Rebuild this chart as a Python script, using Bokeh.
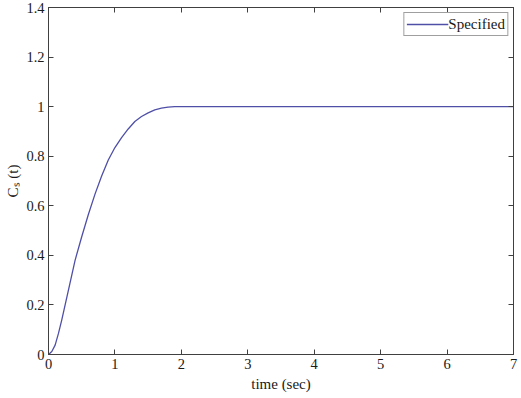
from bokeh.plotting import figure
from bokeh.models import Range1d, FixedTicker, LinearAxis, Legend, LegendItem
from bokeh.embed import file_html
from bokeh.resources import INLINE

# --- data ---
time_sec = [0.0, 0.05, 0.1, 0.15, 0.2, 0.3, 0.4, 0.5, 0.6, 0.7, 0.8, 0.9, 1.0, 1.1, 1.2,
            1.3, 1.4, 1.5, 1.6, 1.7, 1.8, 1.9, 2.0, 7.0]
cs_specified = [0.0, 0.012, 0.038, 0.085, 0.14, 0.26, 0.38, 0.475, 0.565, 0.647, 0.72, 0.785,
                0.835, 0.875, 0.91, 0.94, 0.96, 0.975, 0.987, 0.994, 0.998, 1.0, 1.0, 1.0]
x_ticks = [0, 1, 2, 3, 4, 5, 6, 7]
x_tick_labels = ["0", "1", "2", "3", "4", "5", "6", "7"]
y_ticks = [0, 0.2, 0.4, 0.6, 0.8, 1, 1.2, 1.4]
y_tick_labels = ["0", "0.2", "0.4", "0.6", "0.8", "1", "1.2", "1.4"]
legend_label = "Specified"
x_label = "time (sec)"
y_label = "C\u209b (t)"

FONT = "Liberation Serif"
AX = "#404040"
TXT = "#1a1a1a"
LINE = "#4f4fa8"

p = figure(width=521, height=398, output_backend="svg", toolbar_location=None,
           x_range=Range1d(0, 7), y_range=Range1d(0, 1.4),
           min_border_left=48, min_border_right=8, min_border_top=7, min_border_bottom=44)
p.background_fill_color = "white"
p.border_fill_color = "white"
p.outline_line_color = AX
p.grid.visible = False

r = p.line(time_sec, cs_specified, line_color=LINE, line_width=1.3)

def style_axis(ax, ticks, labels, show_labels=True):
    ax.ticker = FixedTicker(ticks=ticks)
    ax.major_label_overrides = {t: l for t, l in zip(ticks, labels)}
    ax.axis_line_color = AX
    ax.major_tick_line_color = AX
    ax.major_tick_in = 5
    ax.major_tick_out = 0
    ax.minor_tick_line_color = None
    ax.major_label_text_font = FONT
    ax.major_label_text_font_style = "normal"
    if show_labels:
        ax.major_label_text_color = TXT
        ax.major_label_text_font_size = "14.5px"
        ax.major_label_standoff = 4
    else:
        ax.major_label_text_color = None
        ax.major_label_text_font_size = "1px"
        ax.major_label_standoff = 0

style_axis(p.xaxis[0], x_ticks, x_tick_labels)
style_axis(p.yaxis[0], y_ticks, y_tick_labels)
for ax, lab, so in [(p.xaxis[0], x_label, 4), (p.yaxis[0], y_label, 2)]:
    ax.axis_label = lab
    ax.axis_label_text_font = FONT
    ax.axis_label_text_font_size = "15px"
    ax.axis_label_text_font_style = "normal"
    ax.axis_label_text_color = TXT
    ax.axis_label_standoff = so

top_ax = LinearAxis()
style_axis(top_ax, x_ticks, x_tick_labels, show_labels=False)
p.add_layout(top_ax, "above")
right_ax = LinearAxis()
style_axis(right_ax, y_ticks, y_tick_labels, show_labels=False)
p.add_layout(right_ax, "right")

legend = Legend(items=[LegendItem(label=legend_label, renderers=[r])],
                location="top_right", margin=5, padding=2, spacing=0,
                glyph_width=42, glyph_height=18, label_height=18, label_standoff=0,
                label_text_font=FONT, label_text_font_size="15px",
                label_text_color=TXT, border_line_color=AX, border_line_width=1,
                background_fill_color="white", background_fill_alpha=1.0)
p.add_layout(legend)

open("out.html", "w").write(file_html(p, INLINE))
